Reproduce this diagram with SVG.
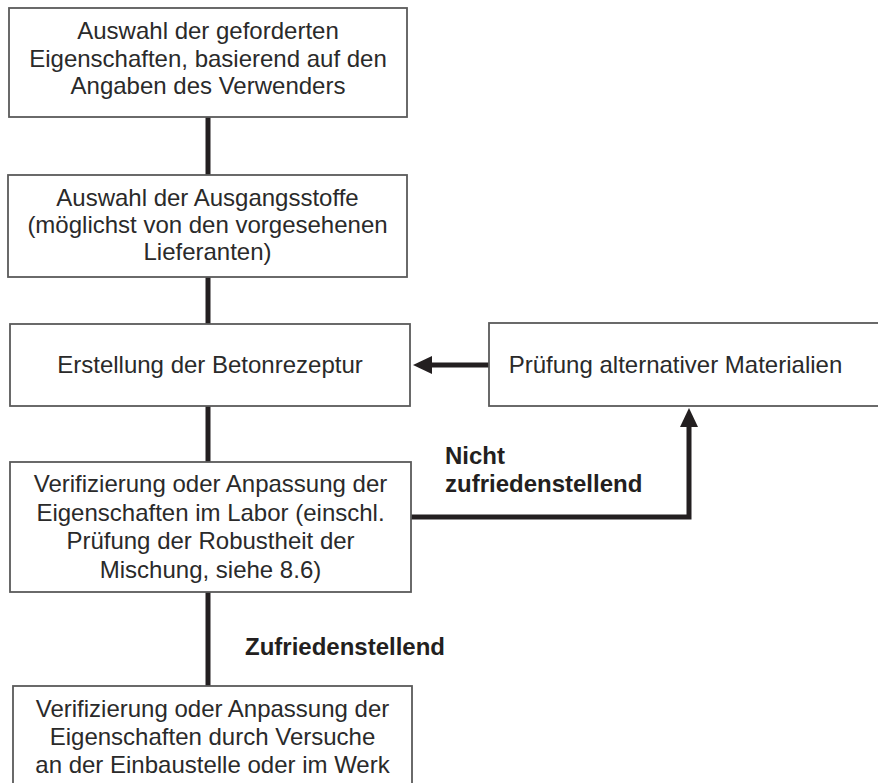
<svg xmlns="http://www.w3.org/2000/svg" width="878" height="783" viewBox="0 0 878 783">
<style>
.box{fill:#fff;stroke:#5a5a5a;stroke-width:1.8}
.t{font-family:"Liberation Sans",Arial,sans-serif;font-size:24px;fill:#2a2a2a;text-anchor:middle}
.lbl{font-family:"Liberation Sans",Arial,sans-serif;font-size:24px;font-weight:bold;fill:#231f20}
.c{fill:none;stroke:#231f20;stroke-width:5}
</style>
<defs>
<marker id="ah" markerUnits="userSpaceOnUse" viewBox="0 0 19 18" markerWidth="19" markerHeight="18" refX="1" refY="9" orient="auto">
<path d="M0,0 L19,9 L0,18 z" fill="#231f20"/>
</marker>
</defs>
<rect width="878" height="783" fill="#fff"/>
<g id="connectors">
<path class="c" d="M208,117 V175"/>
<path class="c" d="M208,277 V324"/>
<path class="c" d="M208,406 V462"/>
<path class="c" d="M208,592 V686"/>
<path class="c" d="M489,365 H431" marker-end="url(#ah)"/>
<path class="c" d="M411,517 H689 V426" marker-end="url(#ah)"/>
<text class="lbl" x="445" y="464">Nicht</text>
<text class="lbl" x="445" y="492">zufriedenstellend</text>
<text class="lbl" x="245" y="655">Zufriedenstellend</text>
</g>
<g id="n1">
<rect class="box" x="9" y="8" width="398" height="109"/>
<text class="t" x="208" y="39">Auswahl der geforderten</text>
<text class="t" x="208" y="66.5">Eigenschaften, basierend auf den</text>
<text class="t" x="208" y="94">Angaben des Verwenders</text>
</g>
<g id="n2">
<rect class="box" x="8" y="175" width="399" height="102"/>
<text class="t" x="207.5" y="206">Auswahl der Ausgangsstoffe</text>
<text class="t" x="207.5" y="233">(möglichst von den vorgesehenen</text>
<text class="t" x="207.5" y="260">Lieferanten)</text>
</g>
<g id="n3">
<rect class="box" x="10" y="324" width="400" height="82"/>
<text class="t" x="210" y="373">Erstellung der Betonrezeptur</text>
</g>
<g id="n4">
<rect class="box" x="489" y="323" width="400" height="83"/>
<text class="t" x="675.5" y="373">Prüfung alternativer Materialien</text>
</g>
<g id="n5">
<rect class="box" x="10" y="462" width="401" height="130"/>
<text class="t" x="210.5" y="492">Verifizierung oder Anpassung der</text>
<text class="t" x="210.5" y="520.5">Eigenschaften im Labor (einschl.</text>
<text class="t" x="210.5" y="549">Prüfung der Robustheit der</text>
<text class="t" x="210.5" y="577.5">Mischung, siehe 8.6)</text>
</g>
<g id="n6">
<rect class="box" x="13" y="686" width="399" height="110"/>
<text class="t" x="212.5" y="717">Verifizierung oder Anpassung der</text>
<text class="t" x="212.5" y="745">Eigenschaften durch Versuche</text>
<text class="t" x="212.5" y="773">an der Einbaustelle oder im Werk</text>
</g>
</svg>
